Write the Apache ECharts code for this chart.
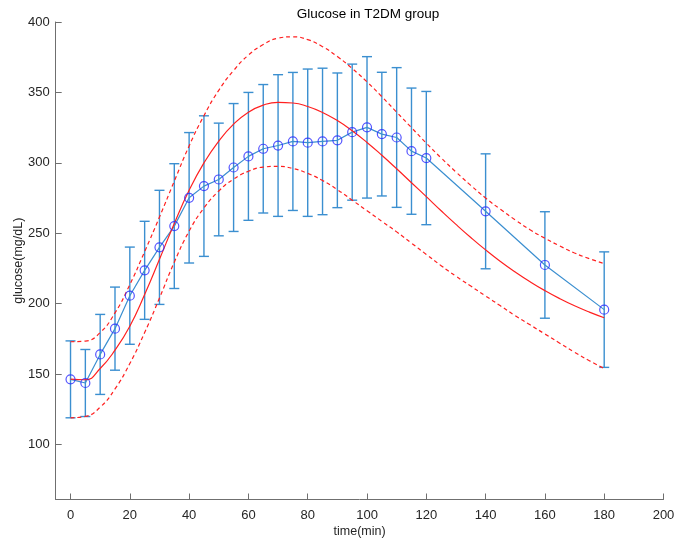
<!DOCTYPE html>
<html><head><meta charset="utf-8">
<script src="https://cdn.jsdelivr.net/npm/echarts@6/dist/echarts.min.js"></script>
<style>html,body{margin:0;padding:0;background:#fff}#c{width:676px;height:547px}</style>
</head><body><div id="c"></div>
<script>
// Measured data (time in min, glucose in mg/dL)
const times = [0,5,10,15,20,25,30,35,40,45,50,55,60,65,70,75,80,85,90,95,100,105,110,115,120,140,160,180];
const meanGlucose = [146.3,143.7,164,182.3,205.7,223.7,240,255.1,275.2,283.5,288.2,296.7,304.6,310,312.3,315.2,314.3,315.2,316,321.8,325.2,320.4,318,308.3,303.4,265.6,227.5,195.8];
const sdGlucose = [27.3,23.8,28.4,29.5,34.5,34.8,40.5,44.3,46.3,49.9,40,45.4,45.4,45.6,50.3,49,52.3,52,47.8,48.3,50.2,43.9,49.6,44.8,47.3,40.8,37.8,41];

// Model fit curve and its band
const fitTimes = [0,5,10,15,20,25,30,35,40,45,50,55,60,65,70,75,80,85,90,95,100,105,110,115,120,125,130,135,140,145,150,155,160,165,170,175,180];
const fitMean  = [146.4,146,154,167,184,206.5,231.5,257,280.5,300,315.5,327.5,336,341,343,342.5,340,335.8,330,322.8,314.5,305.4,295.8,285.9,276,266,256.3,247,238.2,230,222.5,215.6,209.3,203.6,198.5,194,190];
const fitUpper = [173,173.5,179.5,193.5,213.5,237,261.5,287,312,333.5,351.5,365.5,376.5,384,388.5,389.5,387.5,382.5,375.5,367,357.5,347,336,325,314,303.5,293.5,284,275,267,259.5,252.5,246.5,241,236,232,228.5];
const fitLower = [119,120,126.5,139.5,157.5,179.5,204,229.5,251.5,268,280,288.5,294,297,297.5,296,292.5,287.5,281,273.5,266,258.5,251,243,235,227,219.5,212.5,205.5,198.5,191.5,185,178.5,172,165.5,159.5,154];

const xTicks = [0,20,40,60,80,100,120,140,160,180,200];
const yTicks = [100,150,200,250,300,350,400];

const FONT = 'Liberation Sans, Arial, Helvetica, sans-serif';
const AXC = '#6f6f6f';
const EBC = '#3b8fd0';

const pairs = (xs, ys) => xs.map((x, i) => [x, ys[i]]);
const errData = times.map((t, i) => [t, meanGlucose[i] - sdGlucose[i], meanGlucose[i] + sdGlucose[i]]);

const chart = echarts.init(document.getElementById('c'), null, {renderer: 'canvas'});
chart.setOption({
  animation: false,
  backgroundColor: '#fff',
  title: {
    text: 'Glucose in T2DM group', left: 363, top: 2, textAlign: 'center',
    textStyle: {fontFamily: FONT, fontSize: 13.5, fontWeight: 'normal', color: '#000'}
  },
  grid: {left: 55.7, right: 12.5, top: 22, bottom: 47.5, containLabel: false, outerBoundsMode: 'none'},
  xAxis: {
    type: 'value', min: -5, max: 200,
    name: 'time(min)', nameLocation: 'middle', nameGap: 26, nameMoveOverlap: false,
    nameTextStyle: {fontFamily: FONT, fontSize: 12.5, color: '#262626'},
    axisLine: {show: true, onZero: false, lineStyle: {color: AXC, width: 1}},
    axisTick: {show: true, inside: true, length: 6, customValues: xTicks, lineStyle: {color: AXC}},
    axisLabel: {customValues: xTicks, fontFamily: FONT, fontSize: 13, color: '#262626', margin: 9, hideOverlap: false},
    splitLine: {show: false}
  },
  yAxis: {
    type: 'value', min: 61, max: 400,
    name: 'glucose(mg/dL)', nameLocation: 'middle', nameGap: 31, nameMoveOverlap: false,
    nameTextStyle: {fontFamily: FONT, fontSize: 12.5, color: '#262626'},
    axisLine: {show: true, onZero: false, lineStyle: {color: AXC, width: 1}},
    axisTick: {show: true, inside: true, length: 6, customValues: yTicks, lineStyle: {color: AXC}},
    axisLabel: {customValues: yTicks, fontFamily: FONT, fontSize: 13, color: '#262626', margin: 6, hideOverlap: false},
    splitLine: {show: false}
  },
  series: [
    {
      type: 'custom', name: 'sd',
      data: errData,
      encode: {x: 0, y: [1, 2]},
      renderItem: function (params, api) {
        const x = api.value(0);
        const lo = api.coord([x, api.value(1)]);
        const hi = api.coord([x, api.value(2)]);
        const w = 5;
        const st = {stroke: EBC, lineWidth: 1.4};
        return {
          type: 'group',
          children: [
            {type: 'line', shape: {x1: lo[0], y1: lo[1], x2: hi[0], y2: hi[1]}, style: st},
            {type: 'line', shape: {x1: lo[0] - w, y1: lo[1], x2: lo[0] + w, y2: lo[1]}, style: st},
            {type: 'line', shape: {x1: hi[0] - w, y1: hi[1], x2: hi[0] + w, y2: hi[1]}, style: st}
          ]
        };
      },
      z: 2
    },
    {
      type: 'line', name: 'mean', data: pairs(times, meanGlucose),
      symbol: 'none', lineStyle: {color: EBC, width: 1.2}, z: 3
    },
    {
      type: 'line', name: 'fit', data: pairs(fitTimes, fitMean), smooth: true,
      symbol: 'none', lineStyle: {color: '#ff2020', width: 1.2}, z: 4
    },
    {
      type: 'line', name: 'upper', data: pairs(fitTimes, fitUpper), smooth: true,
      symbol: 'none', lineStyle: {color: '#ff2020', width: 1.2, type: [4, 3]}, z: 4
    },
    {
      type: 'line', name: 'lower', data: pairs(fitTimes, fitLower), smooth: true,
      symbol: 'none', lineStyle: {color: '#ff2020', width: 1.2, type: [4, 3]}, z: 4
    },
    {
      type: 'scatter', name: 'points', data: pairs(times, meanGlucose),
      symbol: 'circle', symbolSize: 9,
      itemStyle: {color: 'rgba(0,0,0,0)', borderColor: '#2a2aff', borderWidth: 1.2}, z: 5
    }
  ]
});
</script>
</body></html>
